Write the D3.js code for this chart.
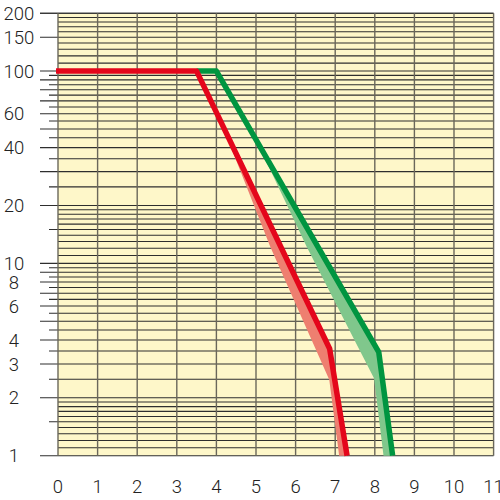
<!DOCTYPE html>
<html>
<head>
<meta charset="utf-8">
<script src="https://cdn.jsdelivr.net/npm/d3@7"></script>
<style>
  html, body { margin: 0; padding: 0; background: #fff; }
</style>
</head>
<body>
<div id="chart"></div>
<script>
// x axis ticks (grid columns)
const xTicks = [0, 1, 2, 3, 4, 5, 6, 7, 8, 9, 10, 11];

// labelled values on the log axis
const yLabels = [1, 2, 3, 4, 6, 8, 10, 20, 40, 60, 100, 150, 200];

// mantissas of the log-paper rulings inside one decade
const fineSteps = [1.1, 1.2, 1.3, 1.4, 1.6, 1.7, 1.8, 1.9];
const halfSteps = [1.5, 2.5, 3.5, 4.5, 5.5, 6.5, 7.5, 8.5, 9.5];
const wholeSteps = [1, 2, 3, 4, 5, 6, 7, 8, 9];
const decades = [1, 10, 100];

// curves
const redCurve = [[-0.05, 100], [3.5, 100], [6.86, 3.6], [7.3, 1]];
const greenCurve = [[3.5, 100], [4.0, 100], [8.1, 3.46], [8.45, 1]];

// tolerance bands: upper edge (on the curve) and lower edge
const redBandTop = [[4.13, 53.6], [6.86, 3.6], [7.3, 1]];
const redBandBottom = [[4.13, 53.6], [5.36, 12.2], [6.85, 2.48], [7.1, 1]];
const greenBandTop = [[5.0, 44.0], [8.1, 3.46], [8.45, 1]];
const greenBandBottom = [[5.0, 44.0], [6.28, 12.2], [7.98, 2.53], [8.22, 1]];

const width = 500;
const height = 500;

const x = d3.scaleLinear().domain([0, 11]).range([58, 493.6]);
const y = d3.scaleLog().domain([1, 200]).range([455.7, 13.2]);

const svg = d3
  .select("#chart")
  .append("svg")
  .attr("width", width)
  .attr("height", height)
  .attr("viewBox", [0, 0, width, height]);

svg
  .append("rect")
  .attr("x", x(0))
  .attr("y", y(200))
  .attr("width", x(11) - x(0))
  .attr("height", y(1) - y(200))
  .attr("fill", "#fef7c9");

// horizontal rulings
const rulings = [];
decades.forEach((d) => {
  fineSteps.forEach((m) => rulings.push({ v: m * d, tick: null }));
  halfSteps.forEach((m) => rulings.push({ v: m * d, tick: "short" }));
  wholeSteps.forEach((m) => rulings.push({ v: m * d, tick: "long" }));
});
rulings.push({ v: 200, tick: "long" });
const rows = rulings.filter((r) => r.v >= 1 && r.v <= 200);
rows.forEach((r) => {
  if (r.v === 150) r.tick = "long";
});

svg
  .append("g")
  .attr("stroke", "#2e2e2e")
  .attr("stroke-width", 1.05)
  .selectAll("line")
  .data(rows)
  .join("line")
  .attr("x1", (d) => (d.tick === "long" ? 40 : d.tick === "short" ? 49 : x(0)))
  .attr("x2", x(11))
  .attr("y1", (d) => y(d.v))
  .attr("y2", (d) => y(d.v));

// vertical grid
svg
  .append("g")
  .attr("stroke", "#6a675a")
  .attr("stroke-width", 1.4)
  .selectAll("line")
  .data(xTicks)
  .join("line")
  .attr("x1", (d) => x(d))
  .attr("x2", (d) => x(d))
  .attr("y1", y(200))
  .attr("y2", y(1));

const line = d3
  .line()
  .x((d) => x(d[0]))
  .y((d) => y(d[1]));

const band = (top, bottom) => line(top.concat(bottom.slice().reverse())) + "Z";

const plot = svg.append("g");

plot
  .append("path")
  .attr("d", band(redBandTop, redBandBottom))
  .attr("fill", "#ee7f70");

plot
  .append("path")
  .attr("d", band(greenBandTop, greenBandBottom))
  .attr("fill", "#80c78c");

plot
  .append("path")
  .attr("d", line(greenCurve))
  .attr("fill", "none")
  .attr("stroke", "#009540")
  .attr("stroke-width", 5.5)
  .attr("stroke-linejoin", "round");

plot
  .append("path")
  .attr("d", line(redCurve))
  .attr("fill", "none")
  .attr("stroke", "#e4061b")
  .attr("stroke-width", 5.5)
  .attr("stroke-linejoin", "round");

// labels
const font = "Roboto, 'Liberation Sans', sans-serif";

svg
  .append("g")
  .attr("fill", "#222")
  .style("font-family", font)
  .style("font-weight", 300)
  .style("font-size", "18.5px")
  .attr("text-anchor", "middle")
  .selectAll("text")
  .data(yLabels)
  .join("text")
  .attr("x", (d) => (d >= 100 ? 19 : 14))
  .attr("y", (d) => y(d))
  .attr("dy", "0.36em")
  .text((d) => d);

svg
  .append("g")
  .attr("fill", "#222")
  .style("font-family", font)
  .style("font-weight", 300)
  .style("font-size", "18.5px")
  .attr("text-anchor", "middle")
  .selectAll("text")
  .data(xTicks)
  .join("text")
  .attr("x", (d) => x(d))
  .attr("y", 493)
  .text((d) => d);
</script>
</body>
</html>
